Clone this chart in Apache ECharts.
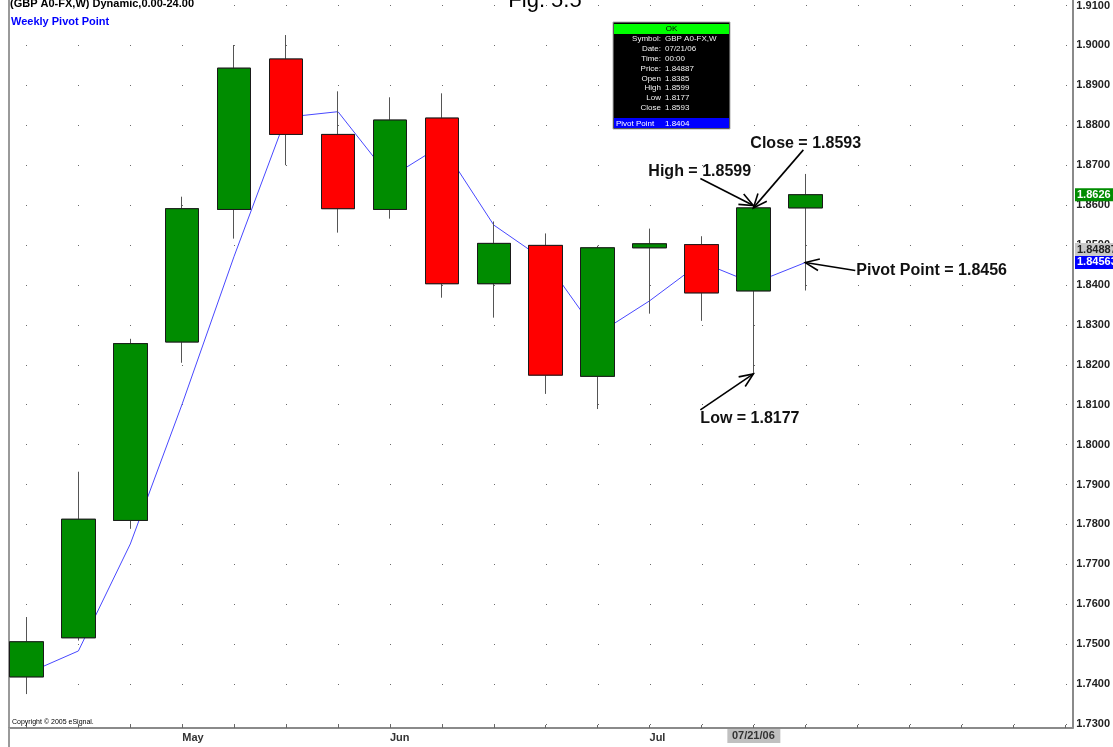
<!DOCTYPE html>
<html><head><meta charset="utf-8">
<script src="https://cdn.jsdelivr.net/npm/echarts@6/dist/echarts.min.js"></script>
<style>html,body{margin:0;padding:0;background:#fff}#c{width:1113px;height:747px}</style>
</head><body><div id="c"></div>
<script>
// ---- data (weekly GBP A0-FX) ----
const weeks  = [0,1,2,3,4,5,6,7,8,9,10,11,12,13,14,15];
const opens  = [1.7418,1.7516,1.7810,1.8257,1.8589,1.8966,1.8777,1.8589,1.8818,1.8403,1.8499,1.8171,1.8493,1.8501,1.8385,1.8593];
const highs  = [1.7568,1.7932,1.8265,1.8621,1.9001,1.9026,1.8885,1.8870,1.8880,1.8559,1.8529,1.8498,1.8541,1.8522,1.8599,1.8678];
const lows   = [1.7375,1.7509,1.7789,1.8205,1.8516,1.8700,1.8531,1.8566,1.8368,1.8318,1.8127,1.8089,1.8328,1.8310,1.8177,1.8386];
const closes = [1.7506,1.7813,1.8253,1.8591,1.8943,1.8777,1.8591,1.8813,1.8403,1.8504,1.8174,1.8493,1.8503,1.8380,1.8593,1.8626];
const pivots = [1.7426,1.7483,1.7751,1.8102,1.8472,1.8820,1.8834,1.8669,1.8750,1.8550,1.8460,1.8277,1.8360,1.8457,1.8404,1.8456];
// ---- axis ticks / labels ----
const yTicks = [1.73,1.74,1.75,1.76,1.77,1.78,1.79,1.80,1.81,1.82,1.83,1.84,1.85,1.86,1.87,1.88,1.89,1.90,1.91];
const weekTicks = [0,1,2,3,4,5,6,7,8,9,10,11,12,13,14,15,16,17,18,19,20];
const monthLabels = ['May','Jun','Jul'];
const monthWeeks = [3,7,12];
const dateLabel = '07/21/06';
const dateWeek = 14;
const lastPrice = 1.8626, cursorPrice = 1.84887, lastPivot = 1.84563;
const infoRows = [['Symbol:','GBP A0-FX,W'],['Date:','07/21/06'],['Time:','00:00'],['Price:','1.84887'],['Open','1.8385'],['High','1.8599'],['Low','1.8177'],['Close','1.8593']];
const infoPivot = ['Pivot Point','1.8404'];

const FONT = "'Liberation Sans', Arial, sans-serif";
const chart = echarts.init(document.getElementById('c'));

const fullCandles = weeks.map((w,i)=>[w, opens[i], closes[i], lows[i], highs[i]]);
const bodies = weeks.map((w,i)=>[w, opens[i], closes[i], Math.min(opens[i],closes[i]), Math.max(opens[i],closes[i])]);

const option = {
  animation: false,
  grid: {left: 9, right: 39, top: 0, bottom: 19, containLabel: false},
  xAxis: {
    type: 'value', min: -0.3365, max: 20.144,
    axisLine: {show: true, onZero: false, lineStyle: {color: '#8a8a8a', width: 2}},
    axisTick: {show: true, inside: true, length: 3, customValues: weekTicks, lineStyle: {color: '#666'}},
    axisLabel: {customValues: monthWeeks, align: 'left', margin: 4,
      formatter: v => monthLabels[monthWeeks.indexOf(Math.round(v))] || '',
      fontFamily: FONT, fontWeight: 'bold', fontSize: 11, color: '#333'},
    splitLine: {show: false}
  },
  yAxis: [{
    type: 'value', position: 'right', min: 1.729, max: 1.91127,
    axisLine: {show: true, onZero: false, lineStyle: {color: '#8a8a8a', width: 2}},
    axisTick: {show: false, customValues: yTicks},
    axisLabel: {customValues: yTicks, formatter: v => v.toFixed(4), margin: 4,
      fontFamily: FONT, fontWeight: 'bold', fontSize: 11, color: '#222'},
    splitLine: {show: true, lineStyle: {color: '#6a6a6a', width: 1, type: [1, 51], dashOffset: 35}}
  }, {
    type: 'value', position: 'left', min: 1.729, max: 1.91127,
    axisLine: {show: true, onZero: false, lineStyle: {color: '#9a9a9a', width: 2}},
    axisTick: {show: false}, axisLabel: {show: false}, splitLine: {show: false}
  }],
  series: [
    {type: 'line', name: 'Weekly Pivot Point', data: weeks.map((w,i)=>[w, pivots[i]]),
     symbol: 'none', lineStyle: {color: '#4848ff', width: 1}, z: 1, silent: true},
    {type: 'candlestick', data: fullCandles, barWidth: 34, z: 2,
     itemStyle: {color: '#008c00', color0: '#ff0000', borderColor: '#555', borderColor0: '#555', borderWidth: 1}},
    {type: 'candlestick', data: bodies, barWidth: 34, z: 3,
     itemStyle: {color: '#008c00', color0: '#ff0000', borderColor: '#1a1a1a', borderColor0: '#1a1a1a', borderWidth: 1}}
  ]
};
chart.setOption(option);

function px(x, y) { return chart.convertToPixel({xAxisIndex: 0, yAxisIndex: 0}, [x, y]); }
function arrow(from, tip, len, ang) {
  len = len || 15; ang = ang || 0.4;
  const a = Math.atan2(from[1]-tip[1], from[0]-tip[0]);
  return [
    {type: 'line', z: 50, shape: {x1: from[0], y1: from[1], x2: tip[0], y2: tip[1]}, style: {stroke: '#000', lineWidth: 1.6}},
    {type: 'polyline', z: 50, shape: {points: [
      [tip[0]+len*Math.cos(a+ang), tip[1]+len*Math.sin(a+ang)], tip,
      [tip[0]+len*Math.cos(a-ang), tip[1]+len*Math.sin(a-ang)]]},
      style: {stroke: '#000', fill: null, lineWidth: 1.6}}
  ];
}
function txt(x, y, s, o) {
  return Object.assign({type: 'text', z: 60, x: x, y: y,
    style: Object.assign({text: s, font: 'bold 16px ' + FONT, fill: '#111', textVerticalAlign: 'middle'}, o || {})});
}

const g = [];
// titles
g.push({type: 'text', z: 60, x: 545, y: 12, style: {text: 'Fig. 5.5', font: '22px ' + FONT, fill: '#000', textAlign: 'center', textVerticalAlign: 'bottom'}});
g.push({type: 'text', z: 60, x: 10, y: 9, style: {text: '(GBP A0-FX,W) Dynamic,0.00-24.00', font: 'bold 11px ' + FONT, fill: '#000', textVerticalAlign: 'bottom'}});
g.push({type: 'text', z: 60, x: 11, y: 22, style: {text: 'Weekly Pivot Point', font: 'bold 11px ' + FONT, fill: '#0000ff', textVerticalAlign: 'middle'}});
g.push({type: 'text', z: 60, x: 12, y: 722, style: {text: 'Copyright \u00a9 2005 eSignal.', font: '7px ' + FONT, fill: '#000', textVerticalAlign: 'middle'}});
// left frame continues below the time axis
g.push({type: 'line', z: 30, shape: {x1: 9, y1: 728, x2: 9, y2: 747}, style: {stroke: '#9a9a9a', lineWidth: 2}});

// date label on x axis
const dx = px(dateWeek, 1.8)[0];
g.push({type: 'rect', z: 40, shape: {x: dx-26, y: 729, width: 53, height: 14}, style: {fill: '#c0c0c0'}});
g.push({type: 'text', z: 41, x: dx, y: 736, style: {text: dateLabel, font: 'bold 11px ' + FONT, fill: '#333', textAlign: 'center', textVerticalAlign: 'middle'}});

// right-axis price flags
function flag(v, s, bg, fg) {
  const y = px(0, v)[1];
  g.push({type: 'rect', z: 40, shape: {x: 1075, y: y-6.5, width: 40, height: 13}, style: {fill: bg}});
  g.push({type: 'text', z: 41, x: 1077, y: y, style: {text: s, font: 'bold 11px ' + FONT, fill: fg, textVerticalAlign: 'middle'}});
}
flag(cursorPrice, cursorPrice.toFixed(5), '#c8c8c8', '#222');
flag(lastPivot, lastPivot.toFixed(5), '#0000ff', '#fff');
flag(lastPrice, lastPrice.toFixed(4), '#008c00', '#fff');

// annotations
const tipHigh = px(dateWeek, highs[dateWeek]);
const tipClose = px(dateWeek, closes[dateWeek]);
const tipLow = px(dateWeek, lows[dateWeek]);
const tipPiv = px(15, pivots[15]);
g.push(...arrow([tipHigh[0]-53, tipHigh[1]-27], tipHigh));
g.push(txt(tipHigh[0]-105, tipHigh[1]-34, 'High = ' + highs[dateWeek].toFixed(4)));
g.push(...arrow([tipClose[0]+50, tipClose[1]-58], tipClose));
g.push(txt(tipClose[0]-3, tipClose[1]-64, 'Close = ' + closes[dateWeek].toFixed(4)));
g.push(...arrow([tipLow[0]-53, tipLow[1]+36], tipLow));
g.push(txt(tipLow[0]-53, tipLow[1]+45, 'Low = ' + lows[dateWeek].toFixed(4)));
g.push(...arrow([tipPiv[0]+50, tipPiv[1]+8], tipPiv));
g.push(txt(tipPiv[0]+51, tipPiv[1]+8, 'Pivot Point = ' + pivots[15].toFixed(4)));

// info box
const bx = 614, by = 23, bw = 115, bh = 105;
g.push({type: 'rect', z: 70, shape: {x: bx-1, y: by-1, width: bw+2, height: bh+2}, style: {fill: '#000', stroke: '#b0b0b0', lineWidth: 1}});
g.push({type: 'rect', z: 71, shape: {x: bx, y: by+1, width: bw, height: 10}, style: {fill: '#00ff00'}});
g.push({type: 'text', z: 72, x: bx+bw/2, y: by+6, style: {text: 'OK', font: '8px ' + FONT, fill: '#000', textAlign: 'center', textVerticalAlign: 'middle'}});
infoRows.forEach((r, i) => {
  const y = 38.7 + i * 9.9;
  g.push({type: 'text', z: 72, x: 661, y: y, style: {text: r[0], font: '8px ' + FONT, fill: '#f0f0f0', textAlign: 'right', textVerticalAlign: 'middle'}});
  g.push({type: 'text', z: 72, x: 665, y: y, style: {text: r[1], font: '8px ' + FONT, fill: '#f0f0f0', textVerticalAlign: 'middle'}});
});
g.push({type: 'rect', z: 71, shape: {x: bx, y: 118, width: bw, height: 10}, style: {fill: '#0000ff'}});
g.push({type: 'text', z: 72, x: bx+2, y: 123.5, style: {text: infoPivot[0], font: '8px ' + FONT, fill: '#fff', textVerticalAlign: 'middle'}});
g.push({type: 'text', z: 72, x: 665, y: 123.5, style: {text: infoPivot[1], font: '8px ' + FONT, fill: '#fff', textVerticalAlign: 'middle'}});

chart.setOption({graphic: {elements: g}});
</script></body></html>
